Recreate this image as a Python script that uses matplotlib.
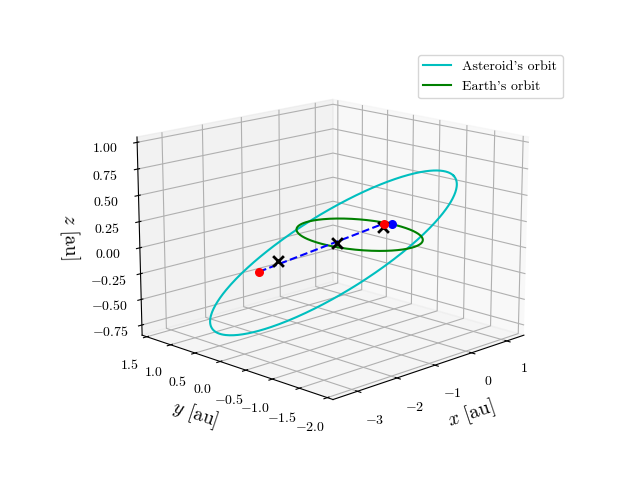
import numpy as np
import matplotlib
matplotlib.use('Agg')
import matplotlib.pyplot as plt

plt.rcParams['font.family'] = 'serif'
plt.rcParams['font.serif'] = ['cmr10']
plt.rcParams['mathtext.fontset'] = 'cm'
plt.rcParams['axes.formatter.use_mathtext'] = True
plt.rcParams['axes.unicode_minus'] = True

# orbital elements (au, deg)
ast_a, ast_e, ast_i, ast_node, ast_peri = 2.12, 0.24, 22.0, 225.0, 90.0
earth_r = 1.0

red_pts = [[-1.7, 0.72, -0.3], [0.25, -0.3, 0.12]]
blue_pt = [0.32, -0.4, 0.12]
cross_pts = [[-1.4, 0.57, -0.2], [-0.36, 0.18, -0.08], [0.22, -0.3, 0.09]]


def orbit(a, e, inc, node, peri, n=400):
    nu = np.linspace(0, 2 * np.pi, n)
    r = a * (1 - e**2) / (1 + e * np.cos(nu))
    xp, yp = r * np.cos(nu), r * np.sin(nu)
    i, O, w = np.radians([inc, node, peri])
    x = (np.cos(O)*np.cos(w) - np.sin(O)*np.sin(w)*np.cos(i)) * xp + (-np.cos(O)*np.sin(w) - np.sin(O)*np.cos(w)*np.cos(i)) * yp
    y = (np.sin(O)*np.cos(w) + np.cos(O)*np.sin(w)*np.cos(i)) * xp + (-np.sin(O)*np.sin(w) + np.cos(O)*np.cos(w)*np.cos(i)) * yp
    z = np.sin(w)*np.sin(i) * xp + np.cos(w)*np.sin(i) * yp
    return x, y, z


fig = plt.figure(figsize=(6.4, 4.8))
ax = fig.add_subplot(projection='3d')
ax.view_init(elev=15, azim=-135)
ax.set_box_aspect(None, zoom=1.15)

ax.plot(*orbit(ast_a, ast_e, ast_i, ast_node, ast_peri), color='c', label="Asteroid's orbit")
t = np.linspace(0, 2 * np.pi, 300)
ax.plot(earth_r * np.cos(t), earth_r * np.sin(t), 0 * t, color='g', label="Earth's orbit")

rp = np.array(red_pts)
ax.plot(rp[:, 0], rp[:, 1], rp[:, 2], 'b--')
ax.scatter(rp[:, 0], rp[:, 1], rp[:, 2], color='r', s=30, depthshade=False)
ax.scatter(*blue_pt, color='b', s=30, depthshade=False)
cp = np.array(cross_pts)
ax.scatter(cp[:, 0], cp[:, 1], cp[:, 2], color='k', marker='x', s=60, linewidths=2, depthshade=False)

ax.set_xlim(-3.6, 1.5)
ax.set_ylim(-2.1, 1.6)
ax.set_zlim(-0.85, 1.05)
ax.set_xticks([-3, -2, -1, 0, 1])
ax.set_yticks([-2.0, -1.5, -1.0, -0.5, 0.0, 0.5, 1.0, 1.5])
ax.set_zticks([-0.75, -0.5, -0.25, 0, 0.25, 0.5, 0.75, 1.0])
ax.set_xlabel('$x$ [au]', fontsize=14)
ax.set_ylabel('$y$ [au]', fontsize=14)
ax.set_zlabel('$z$ [au]', fontsize=14)
ax.legend(loc='upper right', bbox_to_anchor=(0.89, 0.9), bbox_transform=fig.transFigure)

fig.savefig('out.png', dpi=100)
